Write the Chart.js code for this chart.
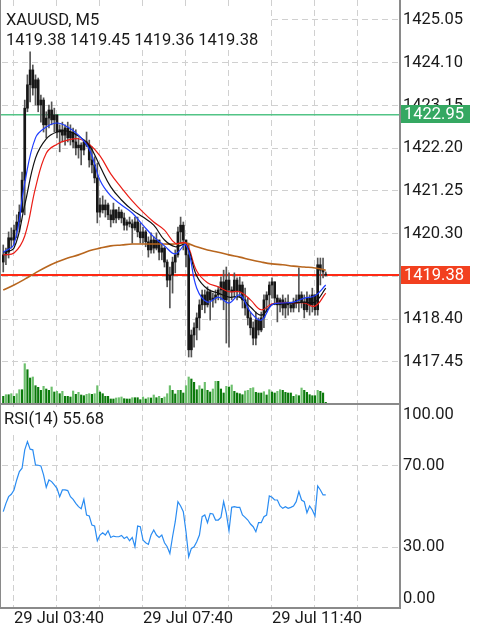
<!DOCTYPE html>
<html>
<head>
<meta charset="utf-8">
<script src="https://cdn.jsdelivr.net/npm/chart.js@4.4.0/dist/chart.umd.min.js"></script>
<style>
  html, body { margin: 0; padding: 0; background: #fff; }
  #wrap { position: relative; width: 482px; height: 625px; }
  #mainBox { position: absolute; left: 0; top: 0; width: 482px; height: 405px; }
  #rsiBox { position: absolute; left: 0; top: 405px; width: 482px; height: 220px; }
</style>
</head>
<body>
<div id="wrap">
  <div id="mainBox"><canvas id="mainChart"></canvas></div>
  <div id="rsiBox"><canvas id="rsiChart"></canvas></div>
</div>
<script>
// --- datos (XAUUSD M5) ---
const symbolName = 'XAUUSD, M5';
const priceTicks = [1425.05, 1424.10, 1423.15, 1422.20, 1421.25, 1420.30, 1419.35, 1418.40, 1417.45];
const levelPrice = 1422.95;
const timeLabels = ['29 Jul 03:40', '29 Jul 07:40', '29 Jul 11:40'];
const timeLabelIdx = [4, 52, 100];
const gridIdx = [4, 20, 36, 52, 68, 84, 100, 116, 132];

const openP = [
  1419.67, 1419.83, 1419.89, 1420.21, 1420.16, 1420.38, 1420.56, 1420.78, 1421.49, 1423.09,
  1423.61, 1423.94, 1423.54, 1423.72, 1423.16, 1423.27, 1422.72, 1422.87, 1423.05, 1422.83,
  1422.94, 1422.56, 1422.61, 1422.49, 1422.65, 1422.43, 1422.56, 1422.34, 1422.21, 1422.27,
  1422.16, 1422.34, 1422.27, 1421.94, 1421.83, 1421.54, 1420.78, 1420.94, 1420.83, 1420.94,
  1420.72, 1420.61, 1420.83, 1420.65, 1420.78, 1420.65, 1420.49, 1420.56, 1420.52, 1420.43,
  1420.56, 1420.34, 1420.21, 1420.34, 1420.12, 1419.94, 1420.16, 1419.98, 1420.16, 1419.89,
  1419.98, 1419.67, 1419.27, 1419.38, 1419.67, 1419.83, 1420.34, 1420.49, 1420.16, 1419.83,
  1417.72, 1418.05, 1418.21, 1418.43, 1418.72, 1418.94, 1418.72, 1419.01, 1418.83, 1418.87,
  1418.94, 1419.05, 1419.23, 1418.83, 1419.27, 1419.05, 1419.01, 1419.27, 1419.01, 1419.16,
  1418.83, 1418.65, 1418.43, 1418.21, 1417.98, 1418.38, 1418.16, 1418.43, 1418.83, 1418.94,
  1419.16, 1419.23, 1418.87, 1418.72, 1418.83, 1418.65, 1418.78, 1418.72, 1418.65, 1418.78,
  1418.83, 1418.94, 1418.78, 1418.61, 1418.87, 1418.72, 1418.94, 1418.61, 1419.61, 1419.49,
  1419.38
];
const highP = [
  1420.05, 1419.98, 1420.34, 1420.43, 1420.49, 1420.72, 1420.94, 1421.67, 1423.27, 1423.83,
  1424.34, 1424.05, 1423.83, 1423.76, 1423.38, 1423.32, 1423.01, 1423.16, 1423.23, 1423.09,
  1422.94, 1422.72, 1422.78, 1422.72, 1422.78, 1422.72, 1422.65, 1422.61, 1422.43, 1422.32,
  1422.38, 1422.56, 1422.38, 1422.23, 1422.01, 1421.87, 1421.09, 1421.14, 1421.05, 1420.98,
  1420.83, 1420.98, 1420.83, 1420.89, 1420.83, 1420.76, 1420.61, 1420.67, 1420.61, 1420.67,
  1420.67, 1420.54, 1420.45, 1420.38, 1420.23, 1420.32, 1420.23, 1420.32, 1420.16, 1420.09,
  1420.01, 1419.72, 1419.56, 1419.78, 1419.94, 1420.45, 1420.67, 1420.56, 1420.16, 1420.09,
  1418.16, 1418.32, 1418.54, 1418.83, 1419.05, 1419.05, 1419.12, 1419.05, 1418.98, 1419.05,
  1419.12, 1419.34, 1419.49, 1419.56, 1419.43, 1419.12, 1419.43, 1419.32, 1419.34, 1419.23,
  1419.09, 1418.87, 1418.56, 1418.34, 1418.56, 1418.43, 1418.56, 1418.94, 1419.01, 1419.23,
  1419.32, 1419.23, 1418.94, 1418.87, 1418.94, 1418.87, 1418.94, 1418.78, 1418.87, 1418.94,
  1419.54, 1419.01, 1418.94, 1419.01, 1418.94, 1419.09, 1418.94, 1419.76, 1419.76, 1419.76,
  1419.45
];
const lowP = [
  1419.45, 1419.61, 1419.76, 1419.98, 1420.05, 1420.21, 1420.34, 1420.78, 1420.72, 1423.01,
  1423.23, 1423.38, 1423.16, 1423.01, 1422.78, 1422.56, 1422.43, 1422.65, 1422.72, 1422.56,
  1422.43, 1422.12, 1422.34, 1422.27, 1422.34, 1422.27, 1422.21, 1422.05, 1421.98, 1421.83,
  1422.05, 1422.23, 1421.78, 1421.65, 1421.43, 1420.54, 1420.67, 1420.76, 1420.67, 1420.61,
  1420.45, 1420.54, 1420.54, 1420.61, 1420.54, 1420.38, 1420.38, 1420.45, 1420.09, 1420.38,
  1420.23, 1420.09, 1420.09, 1420.01, 1419.78, 1419.87, 1419.87, 1419.94, 1419.72, 1419.72,
  1419.56, 1419.12, 1418.65, 1418.98, 1419.43, 1419.78, 1420.09, 1419.94, 1419.56, 1417.56,
  1417.56, 1417.78, 1417.94, 1418.16, 1418.61, 1418.54, 1418.67, 1418.38, 1418.67, 1418.76,
  1418.83, 1418.83, 1418.61, 1417.87, 1417.78, 1418.83, 1418.89, 1418.83, 1418.89, 1418.65,
  1418.49, 1418.27, 1418.05, 1417.83, 1417.83, 1418.05, 1418.12, 1418.21, 1418.56, 1418.72,
  1418.87, 1418.72, 1418.34, 1418.56, 1418.49, 1418.43, 1418.49, 1418.56, 1418.56, 1418.65,
  1418.56, 1418.65, 1418.43, 1418.56, 1418.49, 1418.56, 1418.49, 1418.49, 1419.16, 1419.32,
  1419.36
];
const closeP = [
  1419.83, 1419.89, 1420.21, 1420.16, 1420.38, 1420.56, 1420.78, 1421.49, 1423.09, 1423.61,
  1423.94, 1423.54, 1423.72, 1423.16, 1423.27, 1422.72, 1422.87, 1423.05, 1422.83, 1422.94,
  1422.56, 1422.61, 1422.49, 1422.65, 1422.43, 1422.56, 1422.34, 1422.21, 1422.27, 1422.16,
  1422.34, 1422.27, 1421.94, 1421.83, 1421.54, 1420.78, 1420.94, 1420.83, 1420.94, 1420.72,
  1420.61, 1420.83, 1420.65, 1420.78, 1420.65, 1420.49, 1420.56, 1420.52, 1420.43, 1420.56,
  1420.34, 1420.21, 1420.34, 1420.12, 1419.94, 1420.16, 1419.98, 1420.16, 1419.89, 1419.98,
  1419.67, 1419.27, 1419.38, 1419.67, 1419.83, 1420.34, 1420.49, 1420.16, 1419.83, 1417.72,
  1418.05, 1418.21, 1418.43, 1418.72, 1418.94, 1418.72, 1419.01, 1418.83, 1418.87, 1418.94,
  1419.05, 1419.23, 1418.83, 1419.27, 1419.05, 1419.01, 1419.27, 1419.01, 1419.16, 1418.83,
  1418.65, 1418.43, 1418.21, 1417.98, 1418.38, 1418.16, 1418.43, 1418.83, 1418.94, 1419.16,
  1419.23, 1418.87, 1418.72, 1418.83, 1418.65, 1418.78, 1418.72, 1418.65, 1418.78, 1418.83,
  1418.94, 1418.78, 1418.61, 1418.87, 1418.72, 1418.94, 1418.61, 1419.61, 1419.49, 1419.45,
  1419.38
];
const volumes = [
  67, 83, 83, 93, 67, 93, 133, 133, 393, 333,
  250, 260, 173, 157, 127, 167, 140, 127, 160, 110,
  117, 93, 117, 67, 67, 60, 120, 87, 107, 80,
  73, 87, 93, 87, 93, 173, 110, 93, 67, 67,
  40, 40, 50, 53, 60, 43, 40, 40, 53, 53,
  53, 33, 60, 40, 53, 50, 80, 53, 67, 47,
  60, 93, 173, 127, 90, 127, 127, 100, 173, 260,
  240, 207, 133, 173, 140, 207, 127, 110, 140, 217,
  217, 140, 100, 167, 160, 180, 117, 100, 93, 83,
  120, 127, 147, 153, 107, 100, 100, 113, 80, 133,
  110, 100, 117, 133, 127, 107, 100, 100, 67, 83,
  73, 150, 127, 107, 83, 73, 73, 127, 117, 100,
  7
];

// medias moviles leidas cada 4 velas
const maIdx = [0, 4, 8, 12, 16, 20, 24, 28, 32, 36, 40, 44, 48, 52, 56, 60, 64, 68, 72, 76, 80, 84, 88, 92, 96, 100, 104, 108, 112, 116, 120];
const maBlue = [1419.89, 1420.07, 1421.43, 1422.43, 1422.67, 1422.76, 1422.67, 1422.49, 1422.18, 1421.49, 1421.14, 1420.94, 1420.76, 1420.49, 1420.23, 1420.03, 1419.85, 1420.05, 1419.09, 1418.78, 1418.89, 1418.76, 1418.94, 1418.56, 1418.38, 1418.72, 1418.76, 1418.78, 1418.87, 1418.92, 1419.16];
const maBlack = [1419.89, 1419.98, 1420.94, 1421.98, 1422.41, 1422.56, 1422.58, 1422.47, 1422.27, 1421.80, 1421.34, 1421.05, 1420.83, 1420.67, 1420.49, 1420.16, 1420.01, 1420.05, 1419.36, 1419.07, 1418.98, 1418.89, 1418.89, 1418.67, 1418.49, 1418.72, 1418.74, 1418.76, 1418.78, 1418.78, 1419.09];
const maRed = [1419.83, 1419.87, 1420.25, 1421.32, 1422.09, 1422.29, 1422.38, 1422.41, 1422.29, 1422.03, 1421.63, 1421.32, 1421.03, 1420.78, 1420.56, 1420.38, 1420.09, 1420.09, 1419.47, 1419.21, 1419.12, 1419.01, 1419.01, 1418.83, 1418.61, 1418.74, 1418.76, 1418.76, 1418.76, 1418.69, 1418.98];
const maBrown = [1419.05, 1419.16, 1419.29, 1419.43, 1419.56, 1419.67, 1419.76, 1419.83, 1419.92, 1419.98, 1420.03, 1420.05, 1420.07, 1420.07, 1420.07, 1420.07, 1420.07, 1420.09, 1420.01, 1419.94, 1419.89, 1419.83, 1419.78, 1419.72, 1419.67, 1419.63, 1419.61, 1419.58, 1419.56, 1419.54, 1419.49];

const rsiValues = [
  47.45, 51.56, 54.85, 56.01, 58.15, 63.08, 67.20, 68.85, 77.90, 82.01,
  78.23, 77.90, 70.49, 70.33, 70.00, 65.55, 59.46, 63.08, 62.26, 60.62,
  58.97, 54.85, 58.15, 58.15, 57.82, 54.85, 53.54, 51.56, 49.92, 48.93,
  53.54, 45.80, 45.31, 40.86, 40.37, 33.13, 35.93, 37.08, 35.93, 38.07,
  34.77, 35.43, 35.10, 35.10, 35.76, 34.28, 35.10, 33.13, 34.77, 30.16,
  40.37, 40.04, 33.46, 32.14, 31.32, 35.93, 38.39, 35.93, 34.77, 35.93,
  32.14, 30.16, 26.87, 35.10, 42.51, 52.39, 50.25, 47.45, 37.57, 25.23,
  29.34, 30.16, 32.63, 35.93, 44.98, 45.80, 42.02, 46.62, 46.30, 43.33,
  43.33, 44.65, 52.39, 46.62, 38.07, 49.59, 49.92, 49.59, 49.59, 45.80,
  44.65, 43.33, 41.36, 40.04, 37.57, 42.02, 42.02, 44.98, 45.80, 55.18,
  54.53, 53.21, 53.21, 50.25, 49.09, 49.92, 49.09, 49.59, 50.25, 52.39,
  57.32, 53.21, 52.39, 46.95, 50.25, 48.27, 45.31, 60.12, 58.15, 55.68,
  55.68
];
const rsiLevels = [100, 70, 30, 0];

// --- estilos ---
const FONT = 'Roboto, sans-serif';
const TXT = '#1a1a1a';
const GRID = '#d0d0d0';
const FRAME = '#8a8a8a';
const xMin = -0.465, xMax = 147.63;

Chart.defaults.font.family = FONT;
Chart.defaults.animation = false;

const last = closeP.length - 1;
const volColors = volumes.map((v, i) => (i > 0 && v > volumes[i - 1]) ? '#6cbf6c' : '#0b7a0b');

// quita el relleno que Chart.js reserva para las etiquetas de los extremos
function fixAxis(w, h) {
  return s => {
    if (w !== null) s.width = w;
    if (h !== null) s.height = h;
    s.paddingTop = 0; s.paddingBottom = 0; s.paddingLeft = 0; s.paddingRight = 0;
  };
}

function priceTag(ctx, yPix, text, bg) {
  ctx.fillStyle = bg;
  ctx.fillRect(401, Math.round(yPix) - 9, 69, 18);
  ctx.fillStyle = '#fff';
  ctx.font = '16.5px ' + FONT;
  ctx.textAlign = 'left';
  ctx.textBaseline = 'middle';
  ctx.fillText(text, 404, Math.round(yPix) + 0.5);
}

const mainOverlay = {
  id: 'mainOverlay',
  beforeDatasetsDraw(chart) {
    const { ctx, chartArea: a, scales: { y } } = chart;
    ctx.save();
    ctx.fillStyle = '#52c486';
    ctx.fillRect(0, Math.round(y.getPixelForValue(levelPrice)), a.right, 1.5);
    ctx.fillStyle = '#ff2a14';
    ctx.fillRect(0, Math.round(y.getPixelForValue(closeP[last])) - 1, a.right, 2);
    ctx.restore();
  },
  afterDraw(chart) {
    const { ctx, chartArea: a, scales: { y } } = chart;
    ctx.save();
    // marco
    ctx.fillStyle = FRAME;
    ctx.fillRect(0, 0, 1, 405);
    ctx.fillRect(a.right - 1, 0, 2, 405);
    ctx.fillRect(0, 403, a.right + 1, 2);
    // etiquetas de precio
    priceTag(ctx, y.getPixelForValue(levelPrice), levelPrice.toFixed(2), '#35a862');
    priceTag(ctx, y.getPixelForValue(closeP[last]), closeP[last].toFixed(2), '#f2401f');
    // cabecera
    ctx.fillStyle = '#fff';
    ctx.fillRect(2, 9, 266, 40);
    ctx.fillStyle = TXT;
    ctx.font = '16.5px ' + FONT;
    ctx.textAlign = 'left';
    ctx.textBaseline = 'alphabetic';
    ctx.fillText(symbolName, 6, 25);
    const ohlc = [openP, highP, lowP, closeP].map(arr => arr[last].toFixed(2)).join(' ');
    ctx.fillText(ohlc, 6, 45);
    ctx.restore();
  }
};

const rsiOverlay = {
  id: 'rsiOverlay',
  afterDraw(chart) {
    const { ctx, chartArea: a, scales: { y } } = chart;
    ctx.save();
    ctx.fillStyle = FRAME;
    ctx.fillRect(0, 0, 1, a.bottom + 1);
    ctx.fillRect(a.right - 1, 0, 2, a.bottom + 1);
    ctx.fillRect(0, a.bottom - 1, a.right + 1, 2);
    // niveles del RSI
    ctx.fillStyle = TXT;
    ctx.font = '16.5px ' + FONT;
    ctx.textAlign = 'left';
    ctx.textBaseline = 'middle';
    rsiLevels.forEach(v => {
      let py = y.getPixelForValue(v);
      py = Math.min(Math.max(py, a.top + 10), a.bottom - 9);
      ctx.fillText(v.toFixed(2), a.right + 3, py);
    });
    // titulo del indicador
    ctx.fillStyle = '#fff';
    ctx.fillRect(2, 2, 106, 24);
    ctx.fillStyle = TXT;
    ctx.textBaseline = 'alphabetic';
    ctx.fillText('RSI(14) ' + rsiValues[last].toFixed(2), 4, 19);
    ctx.restore();
  }
};

document.addEventListener('DOMContentLoaded', () => {

  // 1. Grafico de precio
  new Chart(document.getElementById('mainChart'), {
    type: 'bar',
    data: {
      datasets: [
        { type: 'line', data: maIdx.map((v, k) => ({ x: v, y: maBlue[k] })), borderColor: '#1e3cff', borderWidth: 1.2, pointRadius: 0, tension: 0.4, yAxisID: 'y', order: 1 },
        { type: 'line', data: maIdx.map((v, k) => ({ x: v, y: maBlack[k] })), borderColor: '#111111', borderWidth: 1.2, pointRadius: 0, tension: 0.4, yAxisID: 'y', order: 2 },
        { type: 'line', data: maIdx.map((v, k) => ({ x: v, y: maRed[k] })), borderColor: '#ea1d16', borderWidth: 1.2, pointRadius: 0, tension: 0.4, yAxisID: 'y', order: 3 },
        { type: 'line', data: maIdx.map((v, k) => ({ x: v, y: maBrown[k] })), borderColor: '#b8661e', borderWidth: 1.6, pointRadius: 0, tension: 0.4, yAxisID: 'y', order: 4 },
        { data: openP.map((o, i) => ({ x: i, y: [o, closeP[i]] })), backgroundColor: '#161616', barThickness: 2, minBarLength: 1, grouped: false, yAxisID: 'y', order: 6 },
        { data: lowP.map((l, i) => ({ x: i, y: [l, highP[i]] })), backgroundColor: '#555555', barThickness: 1, grouped: false, yAxisID: 'y', order: 7 },
        { data: volumes.map((v, i) => ({ x: i, y: v })), backgroundColor: volColors, barThickness: 1.5, grouped: false, yAxisID: 'yv', order: 8 }
      ]
    },
    options: {
      responsive: true,
      maintainAspectRatio: false,
      animation: false,
      events: [],
      layout: { padding: { left: 2, right: 0, top: 0, bottom: 2 } },
      plugins: { legend: { display: false }, tooltip: { enabled: false } },
      scales: {
        x: {
          type: 'linear', min: xMin, max: xMax, offset: false,
          afterBuildTicks: s => { s.ticks = gridIdx.map(v => ({ value: v })); },
          afterFit: fixAxis(null, 0),
          ticks: { display: false },
          grid: { color: GRID, drawTicks: false, offset: false },
          border: { display: false, dash: [6, 4] }
        },
        y: {
          position: 'right',
          min: 1416.538, max: 1425.494,
          afterBuildTicks: s => { s.ticks = priceTicks.map(v => ({ value: v })); },
          afterFit: fixAxis(82, null),
          ticks: { color: TXT, padding: 3, font: { size: 16.5 }, callback: v => v.toFixed(2) },
          grid: { color: GRID, drawTicks: false },
          border: { display: false, dash: [6, 4] }
        },
        yv: { display: false, min: 0, max: 4030 }
      }
    },
    plugins: [mainOverlay]
  });

  // 2. Panel RSI
  new Chart(document.getElementById('rsiChart'), {
    type: 'line',
    data: {
      datasets: [{
        data: rsiValues.map((v, i) => ({ x: i, y: v })),
        borderColor: '#2a8cf2', borderWidth: 1.2, pointRadius: 0, tension: 0
      }]
    },
    options: {
      responsive: true,
      maintainAspectRatio: false,
      animation: false,
      events: [],
      layout: { padding: { left: 2, right: 0, top: 0, bottom: 0 } },
      plugins: { legend: { display: false }, tooltip: { enabled: false } },
      scales: {
        x: {
          type: 'linear', min: xMin, max: xMax, offset: false,
          afterBuildTicks: s => { s.ticks = gridIdx.map(v => ({ value: v })); },
          afterFit: fixAxis(null, 17),
          ticks: {
            color: TXT, padding: 1, align: 'start', autoSkip: false, maxRotation: 0,
            font: { size: 16.5 },
            callback: v => { const k = timeLabelIdx.indexOf(v); return k >= 0 ? timeLabels[k] : ''; }
          },
          grid: { color: GRID, drawTicks: false, offset: false },
          border: { display: false, dash: [6, 4] }
        },
        y: {
          position: 'right', min: 0, max: 100,
          afterBuildTicks: s => { s.ticks = rsiLevels.map(v => ({ value: v })); },
          afterFit: fixAxis(82, null),
          ticks: { display: false },
          grid: {
            drawTicks: false,
            color: c => (c.tick && (c.tick.value === 30 || c.tick.value === 70)) ? GRID : 'rgba(0,0,0,0)'
          },
          border: { display: false, dash: [6, 4] }
        }
      }
    },
    plugins: [rsiOverlay]
  });
});
</script>
</body>
</html>
